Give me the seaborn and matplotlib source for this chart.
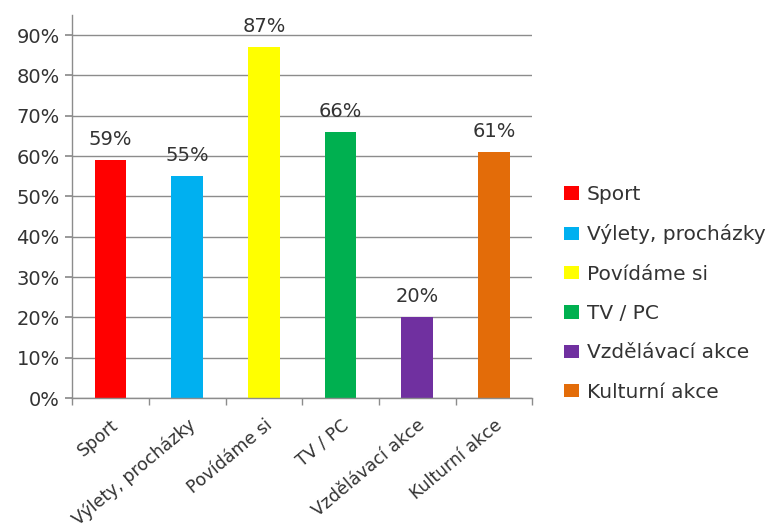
import matplotlib
matplotlib.use("Agg")
import matplotlib.pyplot as plt
import seaborn as sns
import pandas as pd
from matplotlib.patches import Patch
from matplotlib.ticker import FuncFormatter, MultipleLocator

categories = ["Sport", "Výlety, procházky", "Povídáme si", "TV / PC", "Vzdělávací akce", "Kulturní akce"]
values = [59, 55, 87, 66, 20, 61]
colors = ["#FF0000", "#00B0F0", "#FFFF00", "#00B050", "#7030A0", "#E36C09"]

sns.set_theme(style="white")
plt.rcParams['font.family'] = ['DejaVu Sans']

FS = 14
TXT = "#333333"
df = pd.DataFrame({"cat": categories, "val": values})
fig = plt.figure(figsize=(7.68, 5.3), dpi=100)
ax = fig.add_axes([0.094, 0.249, 0.599, 0.723])
sns.barplot(data=df, x="cat", y="val", hue="cat", palette=colors, order=categories,
            hue_order=categories, width=0.41, legend=False, ax=ax, saturation=1, dodge=False,
            linewidth=0)

ax.set_ylim(0, 95)
ax.set_xlim(-0.5, len(categories) - 0.5)
ax.yaxis.set_major_locator(MultipleLocator(10))
ax.yaxis.set_major_formatter(FuncFormatter(lambda v, p: f"{int(round(v))}%"))
ax.grid(axis="y", color="#8c8c8c", linewidth=1)
ax.set_axisbelow(True)
for s in ["top", "right"]:
    ax.spines[s].set_visible(False)
for s in ["left", "bottom"]:
    ax.spines[s].set_color("#8c8c8c")
    ax.spines[s].set_linewidth(1)
ax.set_xlabel("")
ax.set_ylabel("")
ax.tick_params(axis="y", which="major", left=True, length=5, color="#8c8c8c", labelsize=FS, labelcolor=TXT, pad=4)
ax.tick_params(axis="x", which="major", bottom=False, labelsize=12.5, labelcolor=TXT, pad=7)
ax.set_xticks(range(len(categories)))
ax.set_xticklabels(categories, rotation=40, ha="right", rotation_mode="anchor")
ax.set_xticks([i - 0.5 for i in range(len(categories) + 1)], minor=True)
ax.tick_params(axis="x", which="minor", bottom=True, length=5, color="#8c8c8c")

for i, v in enumerate(values):
    ax.text(i, v + 2.8, f"{v}%", ha="center", va="bottom", fontsize=FS, color=TXT)

handles = [Patch(facecolor=c, edgecolor="none") for c in colors]
fig.legend(handles, categories, loc="upper left", bbox_to_anchor=(0.735, 0.651), frameon=False,
           fontsize=14.5, handlelength=0.72, handleheight=0.65, handletextpad=0.4, labelspacing=1.01,
           labelcolor=TXT, borderpad=0, borderaxespad=0)

fig.savefig("out.png", dpi=100)
